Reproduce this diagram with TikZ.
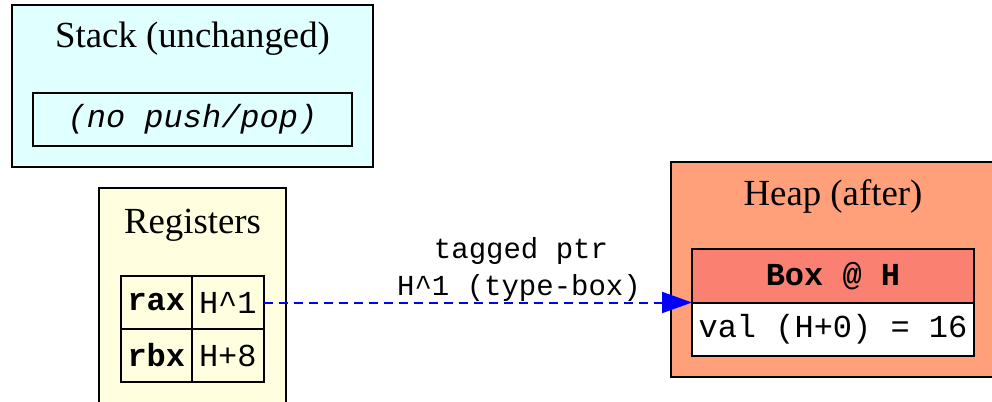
\documentclass[tikz,border=0pt]{standalone}
\usepackage{fontspec}
\setmainfont{Liberation Serif}
\setmonofont{Liberation Mono}
\usetikzlibrary{arrows.meta}
\definecolor{stackbg}{HTML}{E0FFFF}
\definecolor{regbg}{HTML}{FFFFE0}
\definecolor{heapbg}{HTML}{FFA07A}
\definecolor{hdrbg}{HTML}{FA8072}
\begin{document}
\begin{tikzpicture}[x=0.5pt,y=-0.5pt,
  cluster/.style={draw=black,line width=1pt,inner sep=0pt,outer sep=0pt,rectangle},
  cell/.style={draw=black,line width=1pt,inner sep=0pt,outer sep=0pt,rectangle,font=\fontsize{16}{19}\ttfamily},
  title/.style={font=\fontsize{18.4}{22}\selectfont,anchor=base,inner sep=0pt},
  ptr/.style={draw=blue,dash pattern=on 4.5pt off 3pt,line width=1pt,-{Triangle[length=15pt,width=10.5pt,fill=blue]}},
  elabel/.style={font=\fontsize{14.5}{17}\ttfamily,anchor=base,inner sep=0pt}]
\useasboundingbox (0,0) rectangle (992,402);
\clip (0,0) rectangle (992,402);
% Stack cluster
\node[cluster,fill=stackbg,minimum width=180.5pt,minimum height=81pt] (stack) at (192.5,86) {};
\node[title] (stacktitle) at (192.5,47) {Stack (unchanged)};
\node[cell,fill=stackbg,minimum width=159.5pt,minimum height=26.5pt] (nopush) at (192.5,119.5) {\itshape (no push/pop)};
% Registers cluster
\node[cluster,fill=regbg,minimum width=93.5pt,minimum height=116pt] (regs) at (192.5,304) {};
\node[title] (regstitle) at (192.5,233) {Registers};
\node[cell,fill=regbg,minimum width=35.35pt,minimum height=26.5pt] (rax) at (156.35,302.5) {\bfseries rax};
\node[cell,fill=regbg,minimum width=36.15pt,minimum height=26.5pt] (h1) at (227.85,302.5) {H\textasciicircum{}1};
\node[cell,fill=regbg,minimum width=35.35pt,minimum height=26.5pt] (rbx) at (156.35,355.5) {\bfseries rbx};
\node[cell,fill=regbg,minimum width=36.15pt,minimum height=26.5pt] (h8) at (227.85,355.5) {H+8};
% Heap cluster
\node[cluster,fill=heapbg,minimum width=166.5pt,minimum height=107.5pt] (heap) at (837.5,269.5) {};
\node[title] (heaptitle) at (833,205.5) {Heap (after)};
\node[cell,fill=hdrbg,minimum width=141pt,minimum height=26.75pt] (boxhdr) at (833,275.75) {\bfseries Box @ H};
\node[cell,fill=white,minimum width=141pt,minimum height=26.75pt] (boxval) at (833,329.25) {val (H+0) = 16};
% Edge
\draw[ptr] (h1.east) -- (boxhdr.south west);
\node[elabel] (lab1) at (521,258) {tagged ptr};
\node[elabel] (lab2) at (519,295) {H\textasciicircum{}1 (type-box)};
\end{tikzpicture}
\end{document}
